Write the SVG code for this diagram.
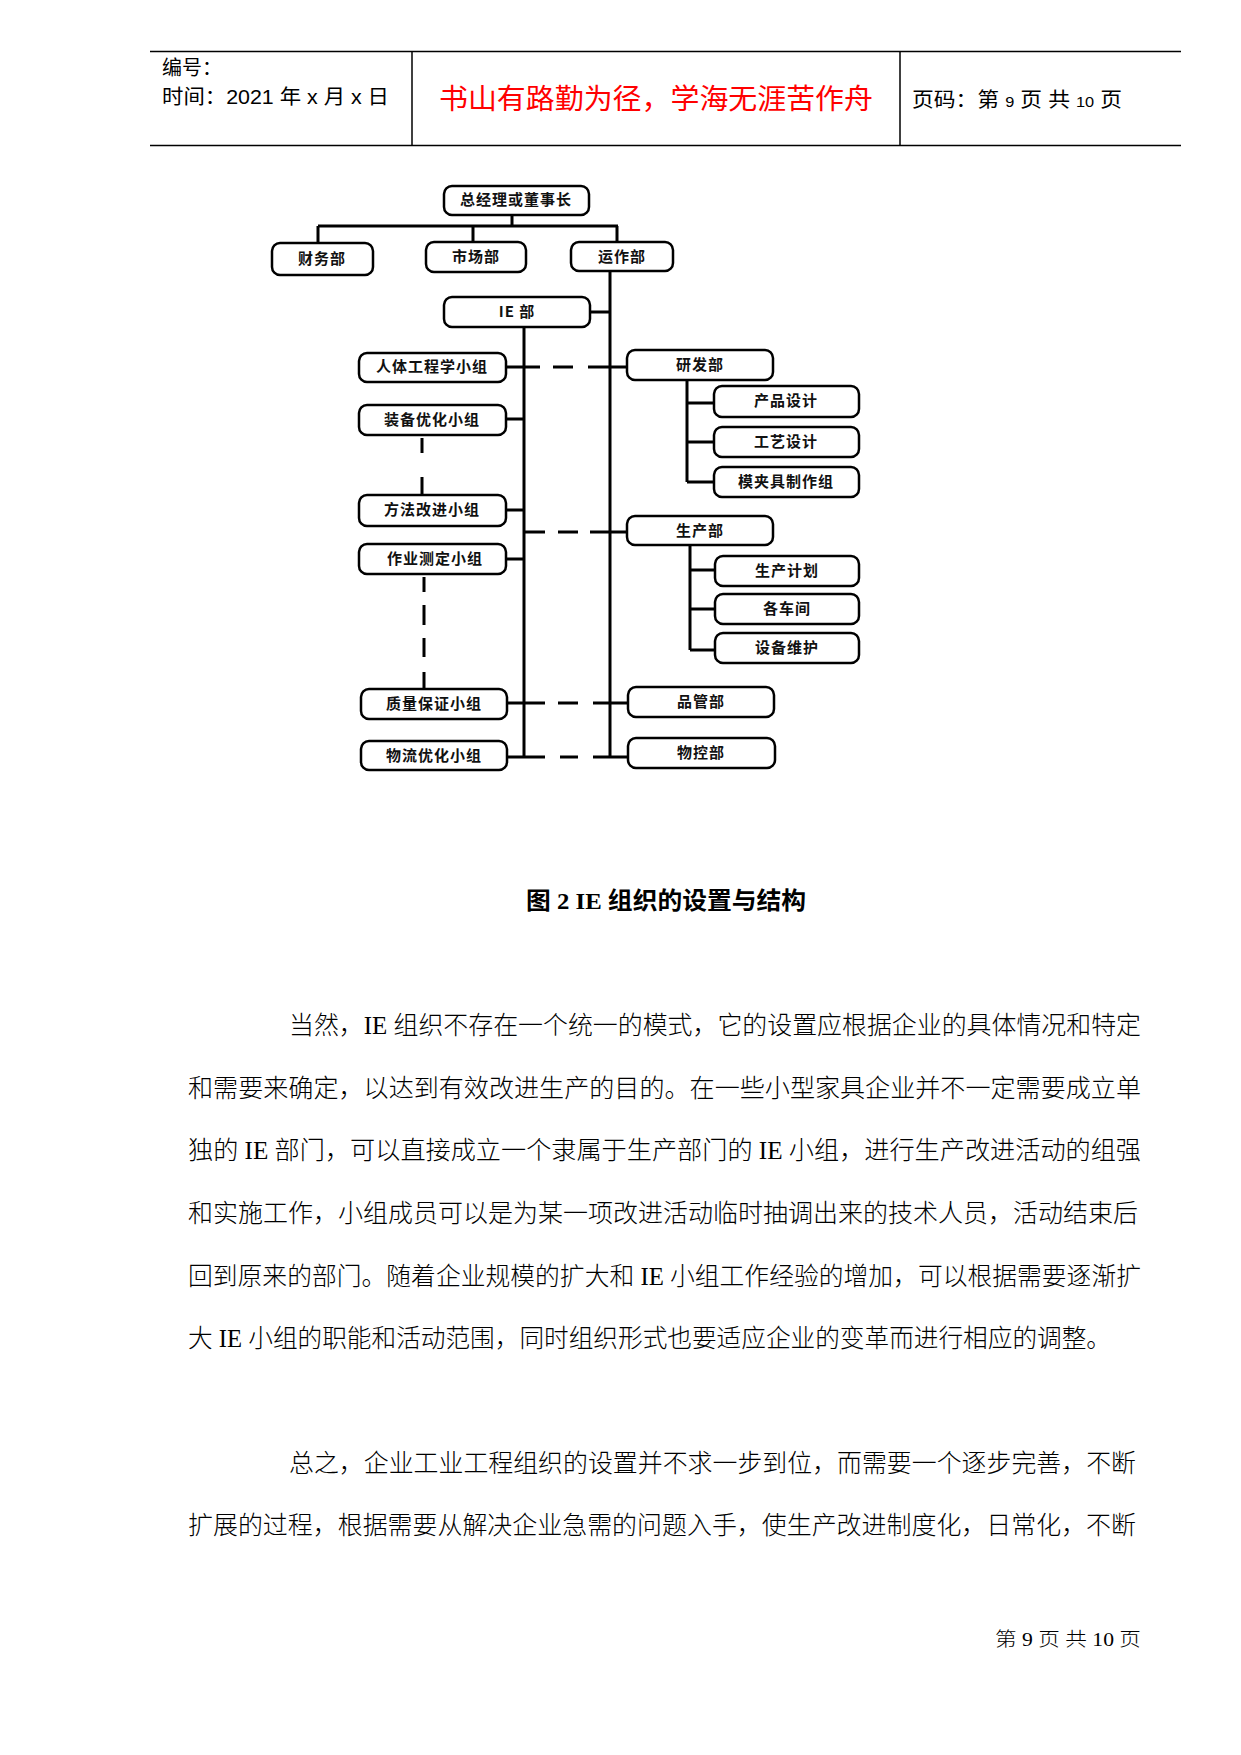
<svg xmlns="http://www.w3.org/2000/svg" width="1241" height="1755" viewBox="0 0 1241 1755">
<style>
.hdr{font-family:"Liberation Sans","Noto Sans CJK SC",sans-serif;font-size:20px;fill:#000}
.motto{font-family:"Noto Sans CJK SC",sans-serif;font-size:28px;fill:#ff0000}
.box{fill:#fff;stroke:#000;stroke-width:2.5}
.bt{font-family:"Noto Sans CJK SC",sans-serif;font-size:15px;font-weight:bold;fill:#111;text-anchor:middle;letter-spacing:1px}
.ln{stroke:#000;stroke-width:3;fill:none}
.body{font-family:"Liberation Serif","Noto Sans CJK SC",serif;font-size:25px;font-weight:300;fill:#000}
.cap{font-family:"Liberation Serif","Noto Sans CJK SC",serif;font-size:24px;font-weight:bold;fill:#000}
.rule{stroke:#000;stroke-width:1.5}
</style>
<rect width="1241" height="1755" fill="#fff"/>
<g id="header">
<line class="rule" x1="150" y1="51.5" x2="1181" y2="51.5"/>
<line class="rule" x1="150" y1="145.5" x2="1181" y2="145.5"/>
<line class="rule" x1="412" y1="51.5" x2="412" y2="145.5"/>
<line class="rule" x1="900" y1="51.5" x2="900" y2="145.5"/>
<text class="hdr" x="162" y="75">编号：</text>
<text class="hdr" x="162" y="104" textLength="227" lengthAdjust="spacingAndGlyphs">时间：2021 年 x 月 x 日</text>
<text class="motto" x="439" y="109" textLength="434" lengthAdjust="spacingAndGlyphs">书山有路勤为径，学海无涯苦作舟</text>
<text class="hdr" x="912" y="107" textLength="210" lengthAdjust="spacingAndGlyphs">页码：第 <tspan font-size="15">9</tspan> 页 共 <tspan font-size="15">10</tspan> 页</text>
</g>
<g id="connectors">
<path class="ln" d="M512 215V226M318 226H618M318 226V243M473 226V242M617 226V242"/>
<path class="ln" d="M610 271V757M590 312H610"/>
<path class="ln" d="M524 327V757"/>
<path class="ln" d="M506 367H540M553 367H573M588 367H627"/>
<path class="ln" d="M506 419H524M506 510H524M506 559H524"/>
<path class="ln" d="M524 532H545M558 532H578M590 532H627"/>
<path class="ln" d="M507 703H545M558 703H578M593 703H628"/>
<path class="ln" d="M507 757H545M560 757H578M593 757H628"/>
<path class="ln" d="M687 380V482M687 403H714M687 442H714M687 482H714"/>
<path class="ln" d="M690 545V650M690 570H715M690 609H715M690 650H715"/>
<path class="ln" d="M422 438V453M422 477V495"/>
<path class="ln" d="M424 577V592M424 605V625M424 638V657M424 672V689"/>
</g>
<g id="n-gm"><rect class="box" x="444" y="186" width="145" height="29" rx="8"/><text class="bt" x="516" y="205">总经理或董事长</text></g>
<g id="n-fin"><rect class="box" x="272" y="243" width="101" height="32" rx="8"/><text class="bt" x="322" y="264">财务部</text></g>
<g id="n-mkt"><rect class="box" x="426" y="242" width="100" height="30" rx="8"/><text class="bt" x="476" y="262">市场部</text></g>
<g id="n-ops"><rect class="box" x="571" y="242" width="102" height="29" rx="8"/><text class="bt" x="622" y="262">运作部</text></g>
<g id="n-ie"><rect class="box" x="444" y="297" width="146" height="30" rx="8"/><text class="bt" x="517" y="317">IE 部</text></g>
<g id="n-erg"><rect class="box" x="359" y="353" width="147" height="29" rx="8"/><text class="bt" x="432" y="372">人体工程学小组</text></g>
<g id="n-equip"><rect class="box" x="359" y="405" width="147" height="30" rx="8"/><text class="bt" x="432" y="425">装备优化小组</text></g>
<g id="n-method"><rect class="box" x="359" y="495" width="147" height="31" rx="8"/><text class="bt" x="432" y="515">方法改进小组</text></g>
<g id="n-work"><rect class="box" x="359" y="544" width="147" height="30" rx="8"/><text class="bt" x="435" y="564">作业测定小组</text></g>
<g id="n-qa"><rect class="box" x="361" y="689" width="146" height="30" rx="8"/><text class="bt" x="434" y="709">质量保证小组</text></g>
<g id="n-log"><rect class="box" x="361" y="741" width="146" height="29" rx="8"/><text class="bt" x="434" y="761">物流优化小组</text></g>
<g id="n-rd"><rect class="box" x="627" y="350" width="146" height="30" rx="8"/><text class="bt" x="700" y="370">研发部</text></g>
<g id="n-pd"><rect class="box" x="714" y="386" width="145" height="31" rx="8"/><text class="bt" x="786" y="406">产品设计</text></g>
<g id="n-proc"><rect class="box" x="714" y="427" width="145" height="30" rx="8"/><text class="bt" x="786" y="447">工艺设计</text></g>
<g id="n-mold"><rect class="box" x="714" y="467" width="145" height="30" rx="8"/><text class="bt" x="786" y="487">模夹具制作组</text></g>
<g id="n-prod"><rect class="box" x="627" y="516" width="146" height="29" rx="8"/><text class="bt" x="700" y="536">生产部</text></g>
<g id="n-plan"><rect class="box" x="715" y="556" width="144" height="30" rx="8"/><text class="bt" x="787" y="576">生产计划</text></g>
<g id="n-shop"><rect class="box" x="715" y="594" width="144" height="30" rx="8"/><text class="bt" x="787" y="614">各车间</text></g>
<g id="n-maint"><rect class="box" x="715" y="633" width="144" height="30" rx="8"/><text class="bt" x="787" y="653">设备维护</text></g>
<g id="n-qc"><rect class="box" x="628" y="687" width="146" height="30" rx="8"/><text class="bt" x="701" y="707">品管部</text></g>
<g id="n-mc"><rect class="box" x="628" y="738" width="147" height="30" rx="8"/><text class="bt" x="701" y="758">物控部</text></g>
<g id="caption"><text class="cap" x="526" y="909" textLength="280" lengthAdjust="spacingAndGlyphs">图 2 IE 组织的设置与结构</text></g>
<g id="body">
<text class="body" x="289" y="1034" textLength="852" lengthAdjust="spacingAndGlyphs">当然，IE 组织不存在一个统一的模式，它的设置应根据企业的具体情况和特定</text>
<text class="body" x="188" y="1097" textLength="953" lengthAdjust="spacingAndGlyphs">和需要来确定，以达到有效改进生产的目的。在一些小型家具企业并不一定需要成立单</text>
<text class="body" x="188" y="1159" textLength="953" lengthAdjust="spacingAndGlyphs">独的 IE 部门，可以直接成立一个隶属于生产部门的 IE 小组，进行生产改进活动的组强</text>
<text class="body" x="188" y="1222" textLength="950" lengthAdjust="spacingAndGlyphs">和实施工作，小组成员可以是为某一项改进活动临时抽调出来的技术人员，活动结束后</text>
<text class="body" x="188" y="1285" textLength="953" lengthAdjust="spacingAndGlyphs">回到原来的部门。随着企业规模的扩大和 IE 小组工作经验的增加，可以根据需要逐渐扩</text>
<text class="body" x="188" y="1347" textLength="923" lengthAdjust="spacingAndGlyphs">大 IE 小组的职能和活动范围，同时组织形式也要适应企业的变革而进行相应的调整。</text>
<text class="body" x="289" y="1472" textLength="847" lengthAdjust="spacingAndGlyphs">总之，企业工业工程组织的设置并不求一步到位，而需要一个逐步完善，不断</text>
<text class="body" x="188" y="1534" textLength="948" lengthAdjust="spacingAndGlyphs">扩展的过程，根据需要从解决企业急需的问题入手，使生产改进制度化，日常化，不断</text>
</g>
<g id="footer"><text class="body" x="995" y="1646" font-size="19" textLength="146" lengthAdjust="spacingAndGlyphs" style="font-size:19px">第 9 页 共 10 页</text></g>
</svg>
